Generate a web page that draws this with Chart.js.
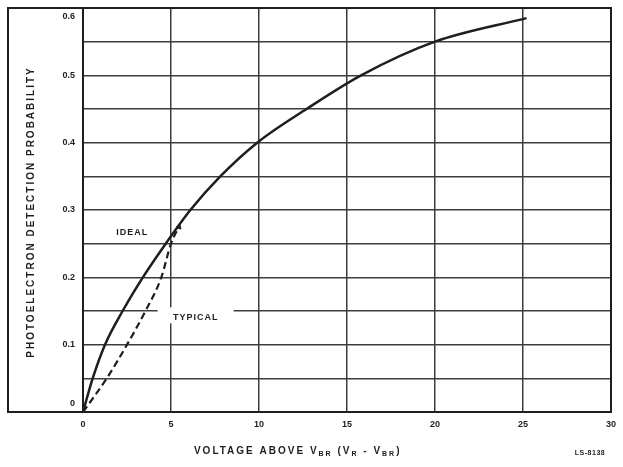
<!DOCTYPE html>
<html lang="en">
<head>
<meta charset="UTF-8">
<title>Photoelectron detection probability</title>
<script src="https://cdn.jsdelivr.net/npm/chart.js"></script>
<style>
  body { margin: 0; background: #fff; }
</style>
</head>
<body>
<canvas id="grafico" width="623" height="467"></canvas>
<script>
// curve readings (volts above breakdown, probability)
const idealX = [0, 0.55, 1.25, 2.25, 3.4, 4.7, 6.1, 7.8, 9.9, 12.7, 15.8, 20.0, 25.2];
const idealY = [0, 0.05, 0.10, 0.15, 0.20, 0.25, 0.30, 0.35, 0.40, 0.45, 0.50, 0.55, 0.585];
const typicalX = [0, 1.35, 2.5, 3.55, 4.45, 5.0, 5.45];
const typicalY = [0, 0.05, 0.10, 0.15, 0.20, 0.25, 0.275];

const xTickLabels = ['0', '5', '10', '15', '20', '25', '30'];
const yTickLabels = ['0', '0.1', '0.2', '0.3', '0.4', '0.5', '0.6'];

const INK = '#1e1e1e';
const GRID = '#3c3c3c';
const FONT = "'Liberation Sans', Arial, sans-serif";

function pontos(xs, ys) {
    return xs.map((x, i) => ({ x: x, y: ys[i] }));
}

// draws text with subscript parts, centered at x
function textoRico(ctx, partes, x, y, size) {
    ctx.save();
    ctx.letterSpacing = '2px';
    let total = 0;
    partes.forEach(p => {
        ctx.font = 'bold ' + (p.sub ? size - 3 : size) + 'px ' + FONT;
        p.w = ctx.measureText(p.t).width;
        total += p.w;
    });
    let cx = x - total / 2;
    ctx.textAlign = 'left';
    ctx.textBaseline = 'middle';
    partes.forEach(p => {
        ctx.font = 'bold ' + (p.sub ? size - 3 : size) + 'px ' + FONT;
        ctx.fillText(p.t, cx, p.sub ? y + 3 : y);
        cx += p.w;
    });
    ctx.restore();
}

const moldura = {
    id: 'moldura',
    beforeDatasetsDraw(chart) {
        const ctx = chart.ctx;
        const xs = chart.scales.x, ys = chart.scales.y;
        // white gap behind the TYPICAL label
        const tx = xs.getPixelForValue(6.4), ty = ys.getPixelForValue(0.142);
        ctx.save();
        ctx.fillStyle = '#fff';
        ctx.fillRect(tx - 38, ty - 9, 76, 16);
        ctx.restore();
    },
    afterDraw(chart) {
        const ctx = chart.ctx;
        const a = chart.chartArea;
        const xs = chart.scales.x, ys = chart.scales.y;
        ctx.save();
        ctx.strokeStyle = INK;
        ctx.lineWidth = 2;
        ctx.strokeRect(8, a.top, a.right - 8, a.bottom - a.top);
        ctx.fillStyle = INK;

        // curve labels
        ctx.font = 'bold 9px ' + FONT;
        ctx.letterSpacing = '1px';
        ctx.textAlign = 'center';
        ctx.textBaseline = 'middle';
        ctx.fillText('IDEAL', xs.getPixelForValue(2.8), ys.getPixelForValue(0.266));
        ctx.fillText('TYPICAL', xs.getPixelForValue(6.4), ys.getPixelForValue(0.140));

        // y title
        ctx.save();
        ctx.translate(31, (a.top + a.bottom) / 2 + 2);
        ctx.rotate(-Math.PI / 2);
        ctx.font = 'bold 10px ' + FONT;
        ctx.letterSpacing = '2px';
        ctx.fillText('PHOTOELECTRON DETECTION PROBABILITY', 0, 0);
        ctx.restore();

        // x title
        textoRico(ctx, [
            { t: 'VOLTAGE ABOVE V' }, { t: 'BR', sub: true },
            { t: ' (V' }, { t: 'R', sub: true },
            { t: ' - V' }, { t: 'BR', sub: true }, { t: ')' }
        ], xs.getPixelForValue(12.2), 451, 10);

        ctx.font = 'bold 7px ' + FONT;
        ctx.letterSpacing = '0.5px';
        ctx.fillText('LS-8138', 590, 453);
        ctx.restore();
    }
};

new Chart(document.getElementById('grafico'), {
    type: 'line',
    data: {
        datasets: [{
            label: 'Ideal',
            data: pontos(idealX, idealY),
            borderColor: INK,
            borderWidth: 2.5,
            pointRadius: 0,
            cubicInterpolationMode: 'monotone',
            fill: false
        }, {
            label: 'Typical',
            data: pontos(typicalX, typicalY),
            borderColor: INK,
            backgroundColor: INK,
            borderWidth: 2.2,
            borderDash: [7, 4],
            pointStyle: 'triangle',
            pointRotation: 18,
            pointRadius: (c) => c.dataIndex === typicalX.length - 1 ? 3 : 0,
            pointBorderWidth: 1,
            cubicInterpolationMode: 'monotone',
            fill: false
        }]
    },
    options: {
        responsive: false,
        animation: false,
        devicePixelRatio: 1,
        layout: { padding: { left: 8, right: 12, top: 8, bottom: 0 } },
        plugins: { legend: { display: false }, tooltip: { enabled: false } },
        scales: {
            x: {
                type: 'linear',
                min: 0, max: 30,
                ticks: {
                    stepSize: 5,
                    padding: 7,
                    autoSkip: false,
                    color: INK,
                    font: { family: FONT, size: 9, weight: 'bold' },
                    callback: (v) => xTickLabels[xTickLabels.indexOf(String(v))] || ''
                },
                grid: { color: GRID, lineWidth: 1.5, drawTicks: false },
                border: { color: INK, width: 2 },
                afterFit: (s) => { s.height = 55; s.paddingLeft = 0; s.paddingRight = 0; }
            },
            y: {
                min: 0, max: 0.6,
                ticks: {
                    stepSize: 0.05,
                    padding: 8,
                    autoSkip: false,
                    color: INK,
                    font: { family: FONT, size: 9, weight: 'bold', lineHeight: 1.9 },
                    callback: function (v) {
                        const k = Math.round(v * 100);
                        if (k % 10 !== 0) return '';
                        const txt = yTickLabels[k / 10];
                        if (k === 60) return ['', txt];
                        if (k === 0) return [txt, ''];
                        return txt;
                    }
                },
                grid: { color: GRID, lineWidth: 1.5, drawTicks: false },
                border: { color: INK, width: 2 },
                afterFit: (s) => { s.width = 75; s.paddingTop = 0; s.paddingBottom = 0; }
            }
        }
    },
    plugins: [moldura]
});
</script>
</body>
</html>
